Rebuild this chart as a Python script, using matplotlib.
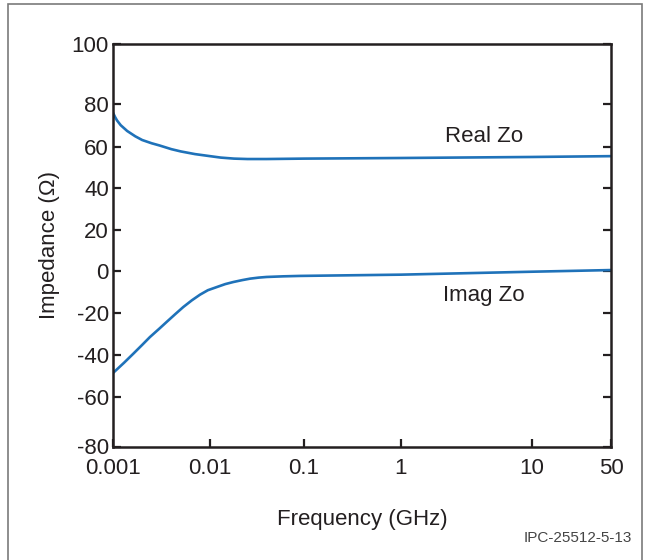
import numpy as np
import matplotlib
matplotlib.use("Agg")
import matplotlib.pyplot as plt
from matplotlib.patches import Rectangle

plt.rcParams['font.family'] = ['Liberation Sans', 'DejaVu Sans']

# ---- data ----
freq_real = [0.001, 0.00105, 0.0011, 0.0012, 0.0014, 0.0017, 0.002, 0.0025, 0.003, 0.004, 0.005,
             0.007, 0.01, 0.013, 0.018, 0.025, 0.04, 0.1, 1, 10, 50]
real_zo = [76.0, 74.0, 72.4, 70.2, 67.5, 65.0, 63.3, 61.8, 60.8, 59.0, 57.9,
           56.6, 55.6, 54.9, 54.4, 54.2, 54.2, 54.4, 54.7, 55.2, 55.6]

freq_imag = [0.001, 0.0013, 0.00162, 0.002, 0.0024, 0.003, 0.00357, 0.0044, 0.0053, 0.0065,
             0.0079, 0.0095, 0.0118, 0.0145, 0.0177, 0.022, 0.0267, 0.033, 0.040, 0.06,
             0.0906, 0.3, 1, 10, 50]
imag_zo = [-48.4, -43.5, -39.2, -35.0, -31.3, -27.3, -24.1, -20.3, -17.0, -13.8,
           -11.1, -9.0, -7.5, -6.1, -5.1, -4.2, -3.5, -3.0, -2.7, -2.4,
           -2.2, -1.9, -1.6, -0.2, 0.6]

x_ticks = [0.001, 0.01, 0.1, 1, 10, 50]
x_ticklabels = ['0.001', '0.01', '0.1', '1', '10', '50']
y_ticks = [-80, -60, -40, -20, 0, 20, 40, 60, 80, 100]
y_ticklabels = [str(v) for v in y_ticks]

# ---- axis scales as drawn in the reference (non-uniform tick spacing) ----
x_anchor_log = np.array([-3, -2, -1, 0, 1, np.log10(50)])
x_anchor_frac = np.array([0, 0.1948, 0.3835, 0.5783, 0.8414, 1.0])
y_anchor_val = np.array(y_ticks, dtype=float)
y_anchor_frac = np.array([0, 0.1219, 0.2264, 0.3308, 0.4353, 0.5373, 0.6418, 0.7438, 0.8507, 1.0])


def xf(v):
    v = np.asarray(v, dtype=float)
    return np.interp(np.log10(np.maximum(v, 1e-12)), x_anchor_log, x_anchor_frac)


def xi(u):
    u = np.asarray(u, dtype=float)
    return 10 ** np.interp(u, x_anchor_frac, x_anchor_log)


def yf(v):
    return np.interp(np.asarray(v, dtype=float), y_anchor_val, y_anchor_frac)


def yi(u):
    return np.interp(np.asarray(u, dtype=float), y_anchor_frac, y_anchor_val)


fig = plt.figure(figsize=(6.49, 5.6), dpi=100)
ax = fig.add_axes([113 / 649, 1 - 446.5 / 560, 498 / 649, 402.5 / 560])

blue = '#1f72b9'
ax.plot(freq_real, real_zo, color=blue, lw=1.9, solid_capstyle='butt', solid_joinstyle='round')
ax.plot(freq_imag, imag_zo, color=blue, lw=1.9, solid_capstyle='butt', solid_joinstyle='round')

ax.set_xscale('function', functions=(xf, xi))
ax.set_yscale('function', functions=(yf, yi))
ax.set_xlim(0.001, 50)
ax.set_ylim(-80, 100)

ax.set_xticks(x_ticks)
ax.set_xticklabels(x_ticklabels)
ax.set_yticks(y_ticks)
ax.set_yticklabels(y_ticklabels)
ax.minorticks_off()

ink = '#231f20'
fs = 16
for s in ax.spines.values():
    s.set_linewidth(1.8)
    s.set_color(ink)

ax.tick_params(axis='x', direction='in', length=6, width=1.6, pad=8,
               labelsize=fs, colors=ink, top=False)
ax.tick_params(axis='y', direction='in', length=6, width=1.6, pad=3,
               labelsize=fs, colors=ink, right=True)

ax.set_xlabel('Frequency (GHz)', fontsize=fs, color=ink, labelpad=22)
ax.set_ylabel('Impedance (Ω)', fontsize=fs, color=ink, labelpad=8)

fig.text(484 / 649, 1 - 137 / 560, 'Real Zo', ha='center', va='center', fontsize=fs, color=ink)
fig.text(484 / 649, 1 - 295 / 560, 'Imag Zo', ha='center', va='center', fontsize=fs, color=ink)

fig.text(632 / 649, 1 - 538 / 560, 'IPC-25512-5-13', ha='right', va='center',
         fontsize=11, color='#444444')

frame = Rectangle((8 / 649, -0.05), (642 - 8) / 649, 1.05 - 3.5 / 560,
                  transform=fig.transFigure, fill=False, edgecolor='#7a7a7a',
                  lw=1.2, clip_on=False)
fig.patches.append(frame)

fig.savefig('out.png', dpi=100, facecolor='white')
